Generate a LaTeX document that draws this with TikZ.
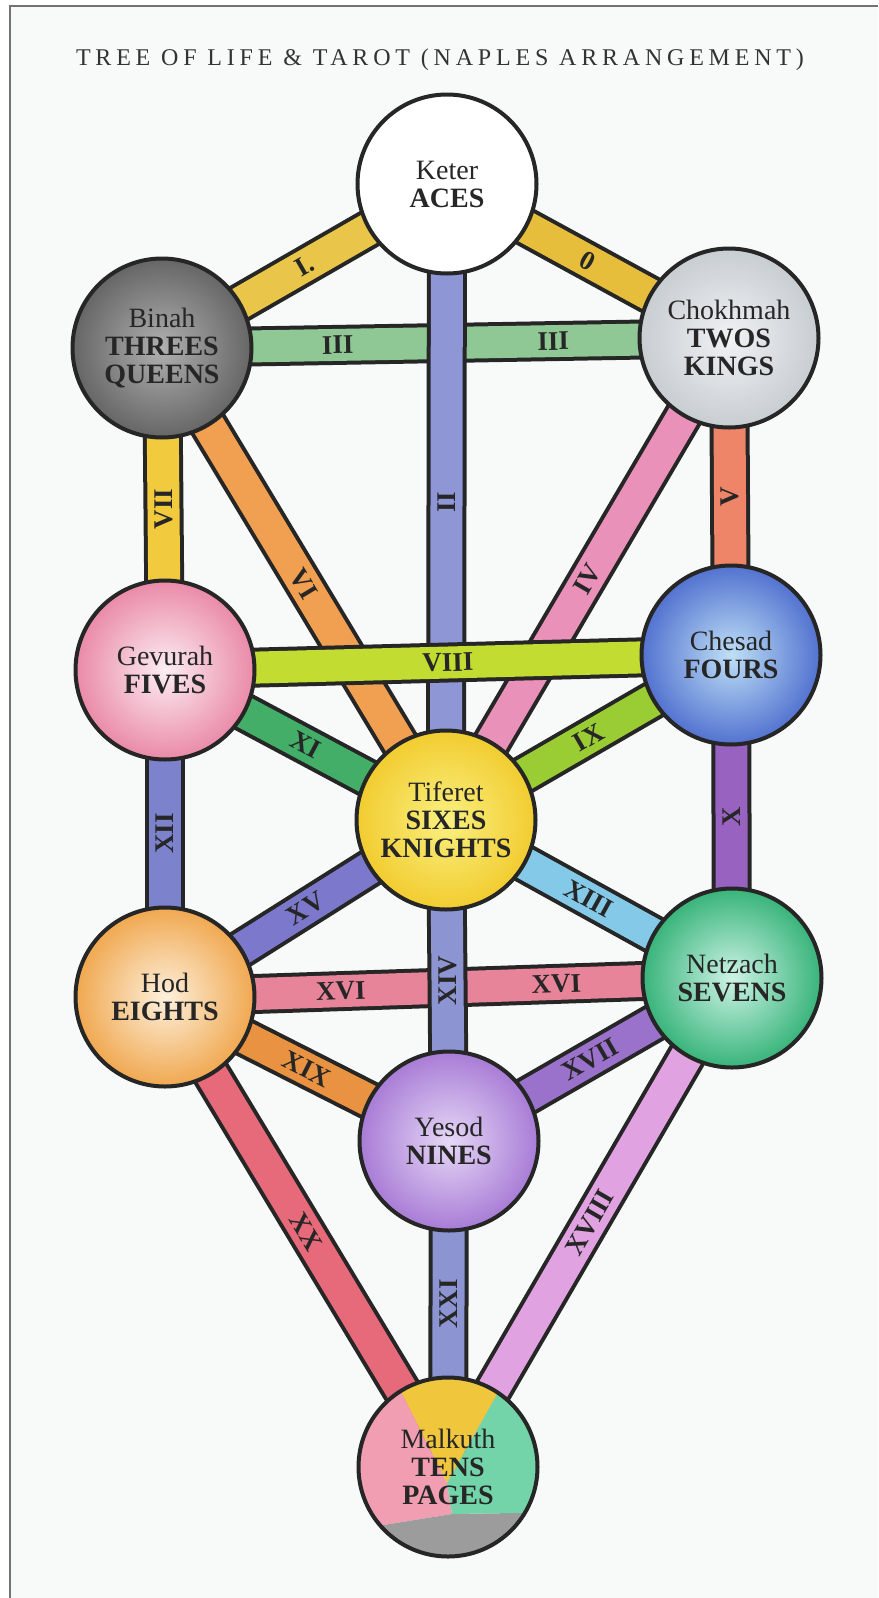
\documentclass[tikz,border=0pt]{standalone}
\usepackage{fontspec}
\setmainfont{Liberation Serif}
\newfontfamily\titlefont[LetterSpace=20]{Liberation Serif}
\usetikzlibrary{calc}
\pgfdeclarelayer{paper}
\pgfdeclarelayer{bands}
\pgfsetlayers{paper,bands,main}
\definecolor{paper}{HTML}{F8F9F9}
\definecolor{colI}{HTML}{E9C64A}
\definecolor{colO}{HTML}{E6BE3C}
\definecolor{colII}{HTML}{8E96D6}
\definecolor{colIII}{HTML}{8FC894}
\definecolor{colIV}{HTML}{E991B8}
\definecolor{colV}{HTML}{EE8468}
\definecolor{colVI}{HTML}{F0A050}
\definecolor{colVII}{HTML}{F1CA3E}
\definecolor{colVIII}{HTML}{C2DC32}
\definecolor{colIX}{HTML}{9ACC34}
\definecolor{colX}{HTML}{9862C0}
\definecolor{colXI}{HTML}{42AE68}
\definecolor{colXII}{HTML}{7C82CC}
\definecolor{colXIII}{HTML}{84CAE8}
\definecolor{colXIV}{HTML}{8C94D2}
\definecolor{colXV}{HTML}{7C78CC}
\definecolor{colXVI}{HTML}{E8849A}
\definecolor{colXVII}{HTML}{9A72CC}
\definecolor{colXVIII}{HTML}{E0A2E0}
\definecolor{colXIX}{HTML}{E89242}
\definecolor{colXX}{HTML}{E66A7A}
\definecolor{colXXI}{HTML}{8C94D2}
\definecolor{binahIn}{HTML}{B0B0B0}
\definecolor{binahOut}{HTML}{666666}
\definecolor{chokhIn}{HTML}{F0F2F4}
\definecolor{chokhOut}{HTML}{C8CDD2}
\definecolor{gevIn}{HTML}{FCEEF3}
\definecolor{gevOut}{HTML}{EA8AA8}
\definecolor{chesIn}{HTML}{BFE0F6}
\definecolor{chesOut}{HTML}{5272D0}
\definecolor{tifIn}{HTML}{F9F080}
\definecolor{tifOut}{HTML}{F2CC30}
\definecolor{hodIn}{HTML}{FDF0DC}
\definecolor{hodOut}{HTML}{F0A850}
\definecolor{netzIn}{HTML}{CDF3E6}
\definecolor{netzOut}{HTML}{38B47A}
\definecolor{yesIn}{HTML}{E6D8F6}
\definecolor{yesOut}{HTML}{A87CD6}
\definecolor{malkYellow}{HTML}{F0C63C}
\definecolor{malkGreen}{HTML}{72D4A8}
\definecolor{malkGray}{HTML}{9C9C9C}
\definecolor{malkPink}{HTML}{F29EB2}
\newcommand{\sefirafont}{\fontsize{28}{28}\selectfont}
\newcommand{\numeralfont}{\fontsize{27}{27}\selectfont\bfseries}

\begin{document}
\begin{tikzpicture}[x=1pt, y=-1pt,
  sefira/.style={circle, draw=black!85, line width=4pt, minimum size=179pt, inner sep=0pt, align=center, font=\sefirafont, text=black!85},
  band/.style={draw=black!85, line width=4pt, double=#1, double distance=32pt},
  numeral/.style={font=\numeralfont, text=black!85, inner sep=0pt}]
\useasboundingbox (0,0) rectangle (878,1598);
\begin{pgfonlayer}{paper}
\fill[white] (0,0) rectangle (878,1598);
\fill[paper] (10,6) rectangle (878,1598);
\draw[black!55, line width=1.5pt] (10,1598) -- (10,6) -- (878,6);
\end{pgfonlayer}
\node[font={\titlefont\fontsize{24}{24}\selectfont}, text=black!80, anchor=base] (title) at (440,65) {TREE OF LIFE \& TAROT (NAPLES ARRANGEMENT)};

\node[sefira, fill=white] (keter) at (447,184) {Keter\\\textbf{ACES}};
\node[sefira, inner color=binahIn, outer color=binahOut] (binah) at (162,348) {Binah\\\textbf{THREES}\\\textbf{QUEENS}};
\node[sefira, inner color=chokhIn, outer color=chokhOut] (chokhmah) at (729,338) {Chokhmah\\\textbf{TWOS}\\\textbf{KINGS}};
\node[sefira, inner color=gevIn, outer color=gevOut] (gevurah) at (165,670) {Gevurah\\\textbf{FIVES}};
\node[sefira, inner color=chesIn, outer color=chesOut] (chesad) at (731,655) {Chesad\\\textbf{FOURS}};
\node[sefira, inner color=tifIn, outer color=tifOut] (tiferet) at (446,820) {Tiferet\\\textbf{SIXES}\\\textbf{KNIGHTS}};
\node[sefira, inner color=hodIn, outer color=hodOut] (hod) at (165,997) {Hod\\\textbf{EIGHTS}};
\node[sefira, inner color=netzIn, outer color=netzOut] (netzach) at (732,978) {Netzach\\\textbf{SEVENS}};
\node[sefira, inner color=yesIn, outer color=yesOut] (yesod) at (449,1141) {Yesod\\\textbf{NINES}};
\node[sefira] (malkuth) at (448,1467) {Malkuth\\\textbf{TENS}\\\textbf{PAGES}};

\begin{pgfonlayer}{bands}
\draw[band=colI] (binah.center) -- node[numeral, sloped] {I.} (keter.center);
\draw[band=colO] (keter.center) -- node[numeral, sloped] {0} (chokhmah.center);
\draw[band=colIII] (binah.center) -- node[numeral, sloped, pos=.31] {III} node[numeral, sloped, pos=.69] {III} (chokhmah.center);
\draw[band=colII] (tiferet.center) -- node[numeral, rotate=90] {II} (keter.center);
\draw[band=colIV] (tiferet.center) -- node[numeral, sloped] {IV} (chokhmah.center);
\draw[band=colVI] (binah.center) -- node[numeral, sloped] {VI} (tiferet.center);
\draw[band=colV] (chesad.center) -- node[numeral, rotate=90] {V} (chokhmah.center);
\draw[band=colVII] (gevurah.center) -- node[numeral, rotate=90] {VII} (binah.center);
\draw[band=colVIII] (gevurah.center) -- node[numeral, sloped] {VIII} (chesad.center);
\draw[band=colIX] (tiferet.center) -- node[numeral, sloped] {IX} (chesad.center);
\draw[band=colXI] (gevurah.center) -- node[numeral, sloped] {XI} (tiferet.center);
\draw[band=colX] (netzach.center) -- node[numeral, rotate=90] {X} (chesad.center);
\draw[band=colXII] (hod.center) -- node[numeral, rotate=90] {XII} (gevurah.center);
\draw[band=colXIII] (tiferet.center) -- node[numeral, sloped] {XIII} (netzach.center);
\draw[band=colXV] (hod.center) -- node[numeral, sloped] {XV} (tiferet.center);
\draw[band=colXVI] (hod.center) -- node[numeral, sloped, pos=.31] {XVI} node[numeral, sloped, pos=.69] {XVI} (netzach.center);
\draw[band=colXIV] (yesod.center) -- node[numeral, rotate=90] {XIV} (tiferet.center);
\draw[band=colXIX] (hod.center) -- node[numeral, sloped] {XIX} (yesod.center);
\draw[band=colXVII] (yesod.center) -- node[numeral, sloped] {XVII} (netzach.center);
\draw[band=colXX] (hod.center) -- node[numeral, sloped] {XX} (malkuth.center);
\draw[band=colXVIII] (malkuth.center) -- node[numeral, sloped] {XVIII} (netzach.center);
\draw[band=colXXI] (malkuth.center) -- node[numeral, rotate=90] {XXI} (yesod.center);
\coordinate (malkP) at ($(malkuth)+(-1,16)$);
\coordinate (malkQ) at ($(malkuth)+(4,47)$);
\fill[malkYellow] (malkP) -- ($(malkuth)+(-122:89)$) arc[start angle=-122, end angle=-56, radius=89] -- cycle;
\fill[malkPink] (malkP) -- ($(malkuth)+(-122:89)$) arc[start angle=-122, end angle=-221, radius=89] -- (malkQ) -- cycle;
\fill[malkGray] (malkQ) -- ($(malkuth)+(-221:89)$) arc[start angle=-221, end angle=-329, radius=89] -- cycle;
\fill[malkGreen] (malkP) -- (malkQ) -- ($(malkuth)+(-329:89)$) arc[start angle=-329, end angle=-416, radius=89] -- cycle;
\end{pgfonlayer}
\end{tikzpicture}
\end{document}
